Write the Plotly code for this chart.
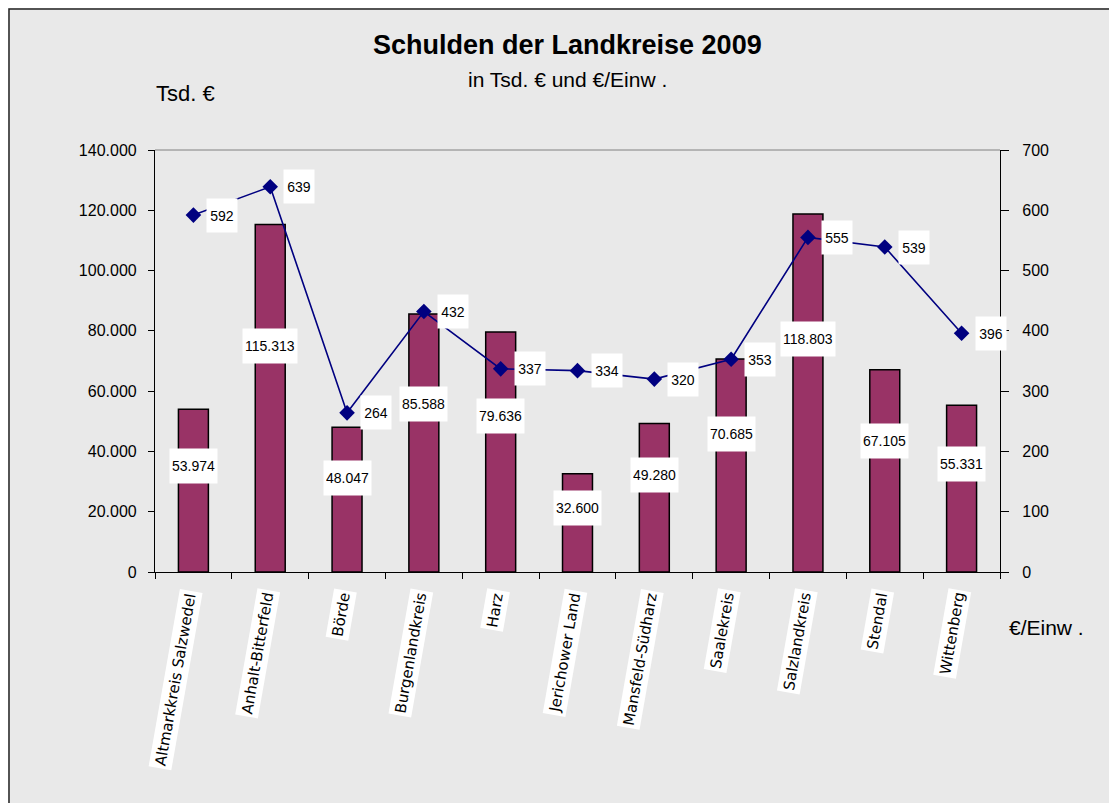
import plotly.graph_objects as go

categories = ["Altmarkkreis Salzwedel", "Anhalt-Bitterfeld", "Börde", "Burgenlandkreis",
              "Harz", "Jerichower Land", "Mansfeld-Südharz", "Saalekreis",
              "Salzlandkreis", "Stendal", "Wittenberg"]
debt_tsd = [53974, 115313, 48047, 85588, 79636, 32600, 49280, 70685, 118803, 67105, 55331]
debt_per_capita = [592, 639, 264, 432, 337, 334, 320, 353, 555, 539, 396]

left_ticks = [0, 20000, 40000, 60000, 80000, 100000, 120000, 140000]
right_ticks = [0, 100, 200, 300, 400, 500, 600, 700]

# page body has an 8px margin; plot area in page pixels: x 155..1000, y 150..572
OFF = 8
W, H = 1117 - OFF, 803 - OFF
PL, PR, PT, PB = 155, 1000, 150, 572
L, T = PL - OFF, PT - OFF
R = W + OFF - PR
B = H + OFF - PB
PW, PH = PR - PL, PB - PT

def px_x(p):
    return (p - PL) / PW

def px_y(p):
    return (PB - p) / PH

def de(n):
    return f"{n:,}".replace(",", ".")

FONT = "Liberation Sans, Arial, sans-serif"

fig = go.Figure()
fig.add_trace(go.Bar(
    x=categories, y=debt_tsd, width=0.39,
    marker=dict(color="#993366", line=dict(color="black", width=1.5)),
    hoverinfo="y", showlegend=False,
))
fig.add_trace(go.Scatter(
    x=categories, y=debt_per_capita, yaxis="y2", mode="lines+markers",
    line=dict(color="#000080", width=1.6),
    marker=dict(symbol="diamond", size=12, color="#000080"),
    showlegend=False,
))

ann = []
for c, v in zip(categories, debt_tsd):
    ann.append(dict(x=c, y=v * 0.65, xref="x", yref="y", text=de(v), showarrow=False,
                    bgcolor="white", borderpad=2, height=30,
                    font=dict(family=FONT, size=14, color="black")))
for c, v in zip(categories, debt_per_capita):
    ann.append(dict(x=c, y=v, xref="x", yref="y2", text=str(v), showarrow=False,
                    xshift=29, bgcolor="white", borderpad=2, height=29, width=26,
                    font=dict(family=FONT, size=14, color="black")))
for c in categories:
    ann.append(dict(x=c, y=px_y(588), xref="x", yref="paper", text=c, showarrow=False,
                    textangle=-80, xanchor="right", yanchor="top", xshift=10,
                    bgcolor="white", borderpad=2,
                    font=dict(family="DejaVu Sans, sans-serif", size=15, color="black")))

ann += [
    dict(x=px_x(567), y=px_y(45), xref="paper", yref="paper", xanchor="center", yanchor="middle",
         text="<b>Schulden der Landkreise 2009</b>",
         showarrow=False, font=dict(family=FONT, size=27, color="black")),
    dict(x=px_x(567), y=px_y(79), xref="paper", yref="paper", xanchor="center", yanchor="middle",
         text="in Tsd. € und €/Einw .",
         showarrow=False, font=dict(family=FONT, size=21, color="black")),
    dict(x=px_x(185), y=px_y(94), xref="paper", yref="paper", xanchor="center", yanchor="middle",
         text="Tsd. €",
         showarrow=False, font=dict(family=FONT, size=22, color="black")),
    dict(x=px_x(1046), y=px_y(627), xref="paper", yref="paper", xanchor="center", yanchor="middle",
         text="€/Einw .",
         showarrow=False, font=dict(family=FONT, size=21, color="black")),
]

shapes = [
    dict(type="line", xref="paper", yref="paper", x0=0, x1=1, y0=1, y1=1,
         line=dict(color="#808080", width=1)),
    dict(type="rect", xref="paper", yref="paper", x0=px_x(9), x1=px_x(1135),
         y0=px_y(815), y1=px_y(9), line=dict(color="#222222", width=1.5)),
]

fig.update_layout(
    width=W, height=H,
    margin=dict(l=L, r=R, t=T, b=B, pad=0),
    paper_bgcolor="#e9e9e9", plot_bgcolor="rgba(0,0,0,0)",
    separators=",.",
    showlegend=False,
    xaxis=dict(type="category", showgrid=False, showticklabels=False,
               showline=True, linecolor="black", linewidth=1.2,
               ticks="outside", tickson="boundaries", ticklen=6, tickcolor="black",
               range=[-0.5, len(categories) - 0.5], zeroline=False),
    yaxis=dict(range=[0, 140000], tickvals=left_ticks,
               ticktext=[de(t) for t in left_ticks], showgrid=False, zeroline=False,
               showline=True, linecolor="black", linewidth=1.2,
               ticks="outside", ticklen=6, tickcolor="black", ticklabelstandoff=8,
               tickfont=dict(family=FONT, size=16, color="black")),
    yaxis2=dict(range=[0, 700], tickvals=right_ticks, overlaying="y", side="right",
                showgrid=False, zeroline=False, showline=True, linecolor="black", linewidth=1.2,
                ticks="outside", ticklen=8, tickcolor="black", ticklabelstandoff=10,
                tickfont=dict(family=FONT, size=16, color="black")),
    annotations=ann, shapes=shapes,
)

fig.write_html("out.html")
